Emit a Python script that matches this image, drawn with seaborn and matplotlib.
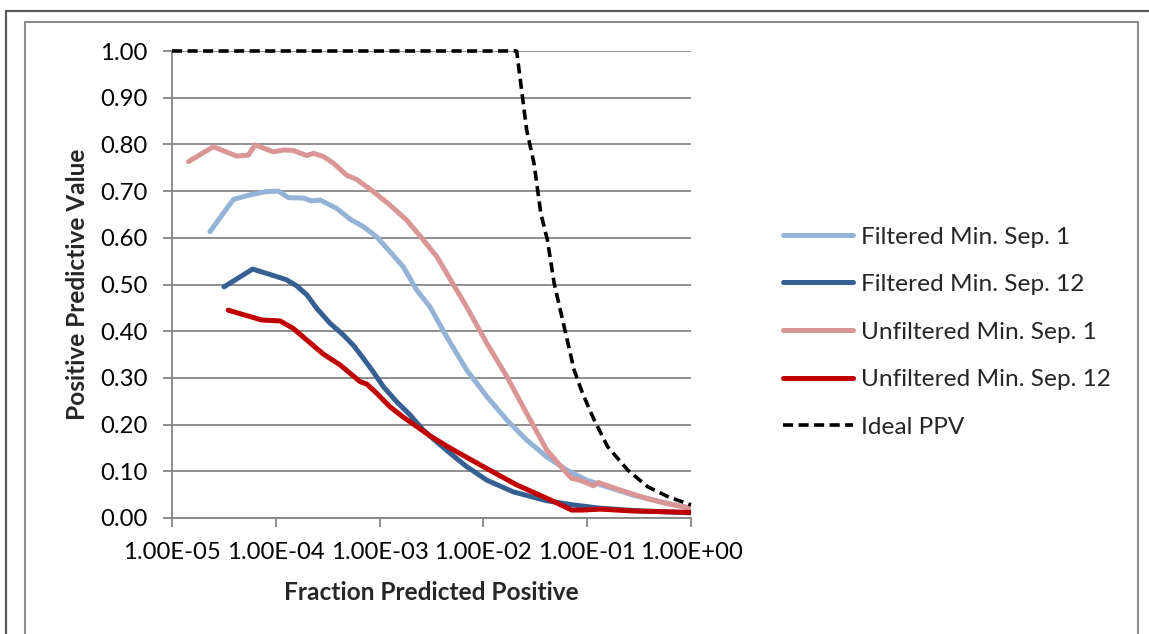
import numpy as np
import pandas as pd
import seaborn as sns
import matplotlib
matplotlib.use("Agg")
import matplotlib.pyplot as plt
from matplotlib.lines import Line2D
from matplotlib.ticker import FixedLocator, NullLocator

# ---- data -------------------------------------------------------------
filt_sep1_x = [2.32e-5, 3.90e-5, 5.64e-5, 8.17e-5, 1.06e-4, 1.32e-4, 1.84e-4, 2.22e-4,
               2.67e-4, 3.86e-4, 5.19e-4, 6.97e-4, 9.38e-4, 1.26e-3, 1.69e-3, 2.28e-3,
               3.06e-3, 4.43e-3, 6.90e-3, 1.08e-2, 1.68e-2, 2.61e-2, 4.07e-2, 6.34e-2,
               9.89e-2, 0.154, 0.278, 0.502, 1.0]
filt_sep1_y = [0.613, 0.682, 0.692, 0.699, 0.700, 0.686, 0.685, 0.679,
               0.681, 0.663, 0.640, 0.624, 0.602, 0.570, 0.538, 0.488,
               0.452, 0.388, 0.317, 0.260, 0.210, 0.167, 0.131, 0.103,
               0.081, 0.067, 0.049, 0.035, 0.021]

filt_sep12_x = [3.17e-5, 5.98e-5, 1.02e-4, 1.27e-4, 1.59e-4, 1.99e-4, 2.48e-4, 3.33e-4,
                4.47e-4, 5.58e-4, 6.97e-4, 8.69e-4, 1.09e-3, 1.46e-3, 1.96e-3, 2.64e-3,
                3.55e-3, 4.76e-3, 6.90e-3, 1.08e-2, 1.94e-2, 4.07e-2, 7.34e-2, 0.133,
                0.278, 1.0]
filt_sep12_y = [0.495, 0.533, 0.517, 0.510, 0.497, 0.478, 0.449, 0.417,
                0.392, 0.370, 0.342, 0.313, 0.281, 0.249, 0.221, 0.188,
                0.163, 0.139, 0.110, 0.081, 0.056, 0.037, 0.028, 0.021,
                0.016, 0.011]

unfilt_sep1_x = [1.44e-5, 2.50e-5, 4.20e-5, 5.43e-5, 6.31e-5, 9.46e-5, 1.18e-4, 1.47e-4,
                 1.99e-4, 2.30e-4, 2.87e-4, 3.58e-4, 4.82e-4, 6.01e-4, 8.69e-4, 1.26e-3,
                 1.82e-3, 2.45e-3, 3.55e-3, 4.43e-3, 6.90e-3, 1.08e-2, 1.68e-2, 2.61e-2,
                 4.07e-2, 6.34e-2, 7.09e-2, 8.53e-2, 0.1146, 0.128, 0.207, 0.374,
                 0.583, 1.0]
unfilt_sep1_y = [0.763, 0.795, 0.775, 0.777, 0.799, 0.784, 0.788, 0.787,
                 0.776, 0.781, 0.774, 0.760, 0.734, 0.725, 0.699, 0.670,
                 0.638, 0.604, 0.560, 0.524, 0.452, 0.374, 0.303, 0.224,
                 0.146, 0.096, 0.085, 0.081, 0.069, 0.076, 0.060, 0.042,
                 0.031, 0.021]

unfilt_sep12_x = [3.48e-5, 7.31e-5, 1.10e-4, 1.47e-4, 1.99e-4, 2.87e-4, 4.15e-4, 5.19e-4,
                  6.48e-4, 7.51e-4, 9.38e-4, 1.26e-3, 1.69e-3, 2.28e-3, 3.06e-3, 4.76e-3,
                  9.98e-3, 2.09e-2, 4.39e-2, 7.09e-2, 9.17e-2, 0.133, 0.278, 1.0]
unfilt_sep12_y = [0.445, 0.424, 0.422, 0.406, 0.381, 0.351, 0.328, 0.310,
                  0.292, 0.287, 0.267, 0.238, 0.216, 0.196, 0.176, 0.150,
                  0.110, 0.071, 0.039, 0.017, 0.017, 0.019, 0.015, 0.012]

ideal_x = [1.0e-5, 0.0209, 0.0261, 0.0307, 0.0357, 0.0414, 0.0480, 0.0599, 0.0748,
           0.0902, 0.1167, 0.157, 0.245, 0.382, 0.596, 1.0]
ideal_y = [1.0, 1.0, 0.831, 0.760, 0.653, 0.595, 0.503, 0.410, 0.317,
           0.267, 0.210, 0.153, 0.103, 0.067, 0.046, 0.028]

series_names = ["Filtered Min. Sep. 1", "Filtered Min. Sep. 12",
                "Unfiltered Min. Sep. 1", "Unfiltered Min. Sep. 12", "Ideal PPV"]
series_colors = ["#95B3D7", "#376092", "#D99694", "#C00000", "#000000"]

x_ticks = [1e-5, 1e-4, 1e-3, 1e-2, 1e-1, 1e0]
x_tick_labels = ["1.00E-05", "1.00E-04", "1.00E-03", "1.00E-02", "1.00E-01", "1.00E+00"]
y_ticks = [0.0, 0.1, 0.2, 0.3, 0.4, 0.5, 0.6, 0.7, 0.8, 0.9, 1.0]
y_tick_labels = [f"{v:.2f}" for v in y_ticks]

# ---- figure -----------------------------------------------------------
sns.set_style("white")
plt.rcParams["font.family"] = ["Lato", "DejaVu Sans"]

W, H = 1149, 634
fig = plt.figure(figsize=(W / 100, H / 100), dpi=100)
fig.patch.set_facecolor("white")

def px_x(p):
    return p / W

def px_y(p):
    return 1 - p / H

ax = fig.add_axes([px_x(172), px_y(518), (691 - 172) / W, (518 - 51) / H])

grid_col = "#868686"
tick_fs = 17.2
label_fs = 17.6
frames = [
    (filt_sep1_x, filt_sep1_y),
    (filt_sep12_x, filt_sep12_y),
    (unfilt_sep1_x, unfilt_sep1_y),
    (unfilt_sep12_x, unfilt_sep12_y),
]
for (xs, ys), name, col in zip(frames, series_names[:4], series_colors[:4]):
    df = pd.DataFrame({"fraction": xs, "ppv": ys})
    sns.lineplot(data=df, x="fraction", y="ppv", ax=ax, color=col, lw=3.6,
                 label=name, solid_capstyle="round", solid_joinstyle="round",
                 zorder=3)

df_ideal = pd.DataFrame({"fraction": ideal_x, "ppv": ideal_y})
sns.lineplot(data=df_ideal, x="fraction", y="ppv", ax=ax, color="black", lw=2.6,
             label=series_names[4], zorder=4)
ideal_line = ax.get_lines()[-1]
ideal_line.set_dashes((2.8, 1.5))
ideal_line.set_clip_on(False)

ax.set_xscale("log")
ax.set_xlim(1e-5, 1.0)
ax.set_ylim(0, 1.0)
ax.xaxis.set_major_locator(FixedLocator(x_ticks))
ax.xaxis.set_minor_locator(NullLocator())
ax.set_xticklabels(x_tick_labels)
ax.set_yticks(y_ticks)
ax.set_yticklabels(y_tick_labels)

ax.grid(axis="y", color=grid_col, lw=1.3, zorder=0)
ax.set_axisbelow(True)
for s in ["top", "right"]:
    ax.spines[s].set_visible(False)
for s in ["left", "bottom"]:
    ax.spines[s].set_color(grid_col)
    ax.spines[s].set_linewidth(1.3)

ax.tick_params(axis="both", which="major", direction="out", length=6.5, width=1.3,
               color=grid_col, labelsize=tick_fs, labelcolor="black", pad=11)
ax.tick_params(axis="y", left=True)
ax.tick_params(axis="x", bottom=True)

ax.set_xlabel("Fraction Predicted Positive", fontsize=label_fs, fontweight="bold")
ax.set_ylabel("Positive Predictive Value", fontsize=label_fs, fontweight="bold")
ax.xaxis.set_label_coords(0.5, (518 - 593) / 467)
ax.xaxis.label.set_verticalalignment("center")
ax.yaxis.set_label_coords((78 - 172) / 519, 0.5)
ax.yaxis.label.set_verticalalignment("center")

handles, labels = ax.get_legend_handles_labels()
ax.legend_.remove()
leg = fig.legend(handles, labels, loc="center left",
                 bbox_to_anchor=(px_x(783), px_y(332)), frameon=False,
                 fontsize=label_fs, handlelength=2.87, handletextpad=0.32,
                 labelspacing=1.08, borderpad=0, borderaxespad=0)
for h in leg.get_lines():
    h.set_solid_capstyle("round")

# chart frames
fig.add_artist(Line2D([px_x(6), 1], [px_y(11), px_y(11)], color="#595959", lw=1.6))
fig.add_artist(Line2D([px_x(6), px_x(6)], [px_y(11), 0], color="#595959", lw=1.6))
fig.add_artist(Line2D([px_x(25), px_x(1138)], [px_y(22), px_y(22)], color="#8C8C8C", lw=1.5))
fig.add_artist(Line2D([px_x(25), px_x(25)], [px_y(22), 0], color="#8C8C8C", lw=1.5))
fig.add_artist(Line2D([px_x(1138), px_x(1138)], [px_y(22), 0], color="#8C8C8C", lw=1.5))

fig.savefig("out.png", dpi=100, facecolor="white")
